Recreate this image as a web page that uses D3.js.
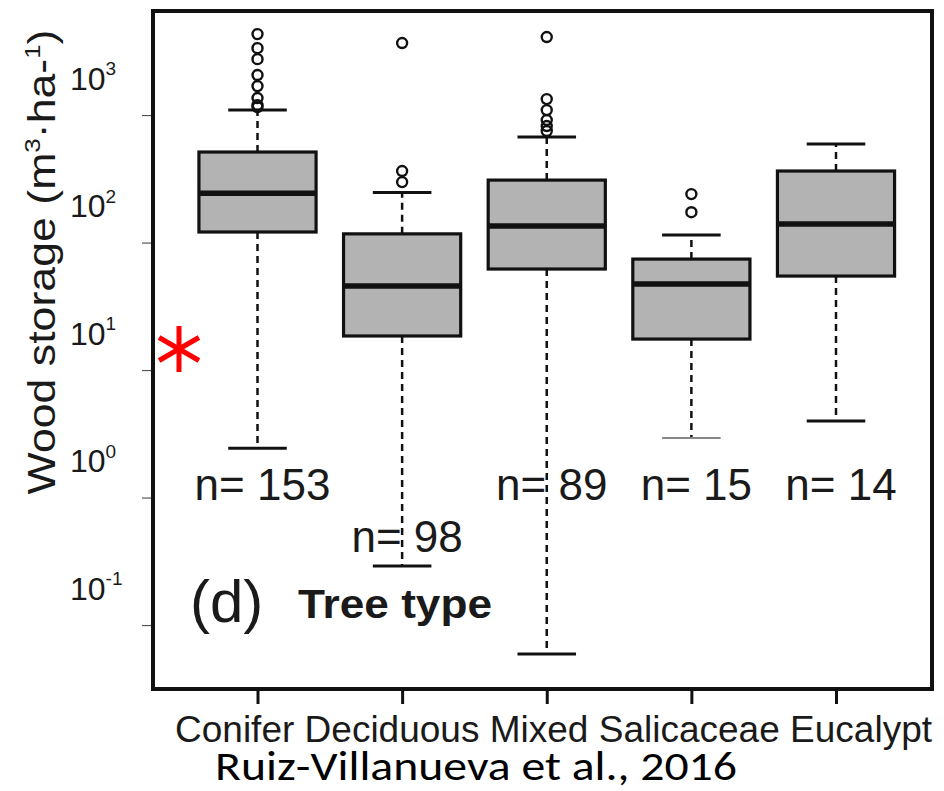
<!DOCTYPE html>
<html>
<head>
<meta charset="utf-8">
<script src="https://cdn.jsdelivr.net/npm/d3@7"></script>
<style>
  html, body { margin: 0; padding: 0; background: #fff; }
  svg { display: block; }
</style>
</head>
<body>
<svg id="chart" width="944" height="791"></svg>
<script>
// ---- data ----
const categories = ["Conifer", "Deciduous", "Mixed", "Salicaceae", "Eucalypt"];
const lowerWhisker = [2.44, 0.29, 0.0593, 2.93, 3.98];
const q1 = [121, 18.5, 62, 17.5, 54.6];
const median = [244, 45.6, 135, 47.3, 140];
const q3 = [513, 117, 309, 74.2, 364];
const upperWhisker = [1094, 247, 672, 114.5, 593];
const sampleSizes = [153, 98, 89, 15, 14];
const outliersConifer = [4315, 3350, 2745, 2060, 1687, 1360, 1197, 1155];
const outliersDeciduous = [3670, 364, 298];
const outliersMixed = [4090, 1334, 1094, 914, 820, 750];
const outliersSalicaceae = [240, 173];
const outliersEucalypt = [];
const yTickValues = [0.1, 1, 10, 100, 1000];
const yTickExponents = ["-1", "0", "1", "2", "3"];

const outliers = [outliersConifer, outliersDeciduous, outliersMixed, outliersSalicaceae, outliersEucalypt];
const boxes = categories.map((c, i) => ({
  cat: c, lo: lowerWhisker[i], q1: q1[i], med: median[i], q3: q3[i], hi: upperWhisker[i],
  n: sampleSizes[i], out: outliers[i]
}));

// ---- layout ----
const frame = { left: 153, top: 11, right: 932, bottom: 689 };
const svg = d3.select("#chart");
const ink = "#111";
const sans = "'Liberation Sans', Arial, sans-serif";

const x = d3.scalePoint().domain(categories).range([257.5, 836]);
const y = d3.scaleLog().domain([0.0315, 6550]).range([frame.bottom, frame.top]);
const boxW = x.step() * 0.81;
const capW = boxW / 2;

// y axis ticks (marks only)
svg.append("g")
  .attr("transform", `translate(${frame.left - 2},0)`)
  .call(d3.axisLeft(y).tickValues(yTickValues).tickSize(9).tickFormat(""))
  .call(g => g.select(".domain").remove())
  .call(g => g.selectAll("line").attr("stroke", "#555").attr("stroke-width", 1.2));

// y tick labels (offset above ticks as in the reference)
const yLab = svg.append("g").attr("font-family", sans).attr("fill", "#1a1a1a");
yTickValues.forEach((v, i) => {
  const t = yLab.append("text")
    .attr("x", 70).attr("y", y(v) - 37).attr("dy", "0.36em")
    .attr("font-size", 32);
  t.append("tspan").text("10");
  t.append("tspan").attr("font-size", 19).attr("dy", "-0.75em").text(yTickExponents[i]);
});

// y title
const yt = svg.append("text")
  .attr("transform", "translate(55,262) rotate(-90)")
  .attr("text-anchor", "middle")
  .attr("font-family", sans)
  .attr("font-size", 38)
  .attr("fill", "#1a1a1a")
  .attr("textLength", 465).attr("lengthAdjust", "spacingAndGlyphs");
yt.append("tspan").text("Wood storage (m");
yt.append("tspan").attr("font-size", 22).attr("dy", -15).text("3");
yt.append("tspan").attr("dy", 15).text("·ha-");
yt.append("tspan").attr("font-size", 22).attr("dy", -15).text("1");
yt.append("tspan").attr("dy", 15).text(")");

// x axis ticks
svg.append("g")
  .attr("transform", `translate(0,${frame.bottom})`)
  .call(d3.axisBottom(x).tickSize(15).tickFormat(""))
  .call(g => g.select(".domain").remove())
  .call(g => g.selectAll("line").attr("stroke", ink).attr("stroke-width", 3));

// x labels: laid out as one continuous line, as in the reference
svg.append("text")
  .attr("x", 175).attr("y", 742)
  .attr("font-family", sans)
  .attr("font-size", 37).attr("fill", "#1a1a1a")
  .attr("textLength", 757).attr("lengthAdjust", "spacingAndGlyphs")
  .text(categories.join(" "));

// boxes
const g = svg.append("g").selectAll("g").data(boxes).join("g");

// whiskers (dashed)
g.append("line")
  .attr("x1", d => x(d.cat)).attr("x2", d => x(d.cat))
  .attr("y1", d => y(d.q3)).attr("y2", d => y(d.hi))
  .attr("stroke", ink).attr("stroke-width", 2.5).attr("stroke-dasharray", "7,5");
g.append("line")
  .attr("x1", d => x(d.cat)).attr("x2", d => x(d.cat))
  .attr("y1", d => y(d.q1)).attr("y2", d => y(d.lo))
  .attr("stroke", ink).attr("stroke-width", 2.5).attr("stroke-dasharray", "7,5");
// caps
g.append("line")
  .attr("x1", d => x(d.cat) - capW / 2).attr("x2", d => x(d.cat) + capW / 2)
  .attr("y1", d => y(d.hi)).attr("y2", d => y(d.hi))
  .attr("stroke", ink).attr("stroke-width", 3);
g.append("line")
  .attr("x1", d => x(d.cat) - capW / 2).attr("x2", d => x(d.cat) + capW / 2)
  .attr("y1", d => y(d.lo)).attr("y2", d => y(d.lo))
  .attr("stroke", d => d.cat === "Salicaceae" ? "#888" : ink)
  .attr("stroke-width", d => d.cat === "Salicaceae" ? 2 : 3);
// box
g.append("rect")
  .attr("x", d => x(d.cat) - boxW / 2).attr("width", boxW)
  .attr("y", d => y(d.q3)).attr("height", d => y(d.q1) - y(d.q3))
  .attr("fill", "#b3b3b3").attr("stroke", ink).attr("stroke-width", 3.2);
// median
g.append("line")
  .attr("x1", d => x(d.cat) - boxW / 2).attr("x2", d => x(d.cat) + boxW / 2)
  .attr("y1", d => y(d.med)).attr("y2", d => y(d.med))
  .attr("stroke", ink).attr("stroke-width", 5.5);
// outliers
g.selectAll("circle").data(d => d.out.map(v => ({ cat: d.cat, v }))).join("circle")
  .attr("cx", d => x(d.cat)).attr("cy", d => y(d.v)).attr("r", 5)
  .attr("fill", "none").attr("stroke", ink).attr("stroke-width", 2.4);

// n= labels
const nY = [500, 552, 500, 500, 500];
svg.append("g").selectAll("text").data(boxes).join("text")
  .attr("x", d => x(d.cat) + 5).attr("y", (d, i) => nY[i])
  .attr("text-anchor", "middle")
  .attr("font-family", sans)
  .attr("font-size", 44).attr("fill", "#1a1a1a")
  .text(d => "n= " + d.n);

// panel label
svg.append("text").attr("x", 190).attr("y", 622)
  .attr("font-family", sans)
  .attr("font-size", 60).attr("fill", "#1a1a1a").text("(d)");
svg.append("text").attr("x", 298).attr("y", 618)
  .attr("font-family", sans)
  .attr("font-size", 40).attr("font-weight", "bold").attr("fill", "#1a1a1a")
  .attr("textLength", 194).attr("lengthAdjust", "spacingAndGlyphs")
  .text("Tree type");

// frame
svg.append("rect")
  .attr("x", frame.left).attr("y", frame.top)
  .attr("width", frame.right - frame.left).attr("height", frame.bottom - frame.top)
  .attr("fill", "none").attr("stroke", ink).attr("stroke-width", 4);

// red asterisk
const star = svg.append("g").attr("transform", "translate(179,349)")
  .attr("stroke", "#ff0000").attr("stroke-width", 5).attr("stroke-linecap", "butt");
[0, 60, 120].forEach(a => {
  star.append("line").attr("x1", 0).attr("y1", -23).attr("x2", 0).attr("y2", 23)
    .attr("transform", `rotate(${a})`);
});

// citation
svg.append("text").attr("x", 215).attr("y", 780)
  .attr("font-family", "Carlito, Lato, 'Open Sans', sans-serif")
  .attr("font-size", 40).attr("fill", "#000")
  .attr("textLength", 522).attr("lengthAdjust", "spacingAndGlyphs")
  .text("Ruiz-Villanueva et al., 2016");
</script>
</body>
</html>
